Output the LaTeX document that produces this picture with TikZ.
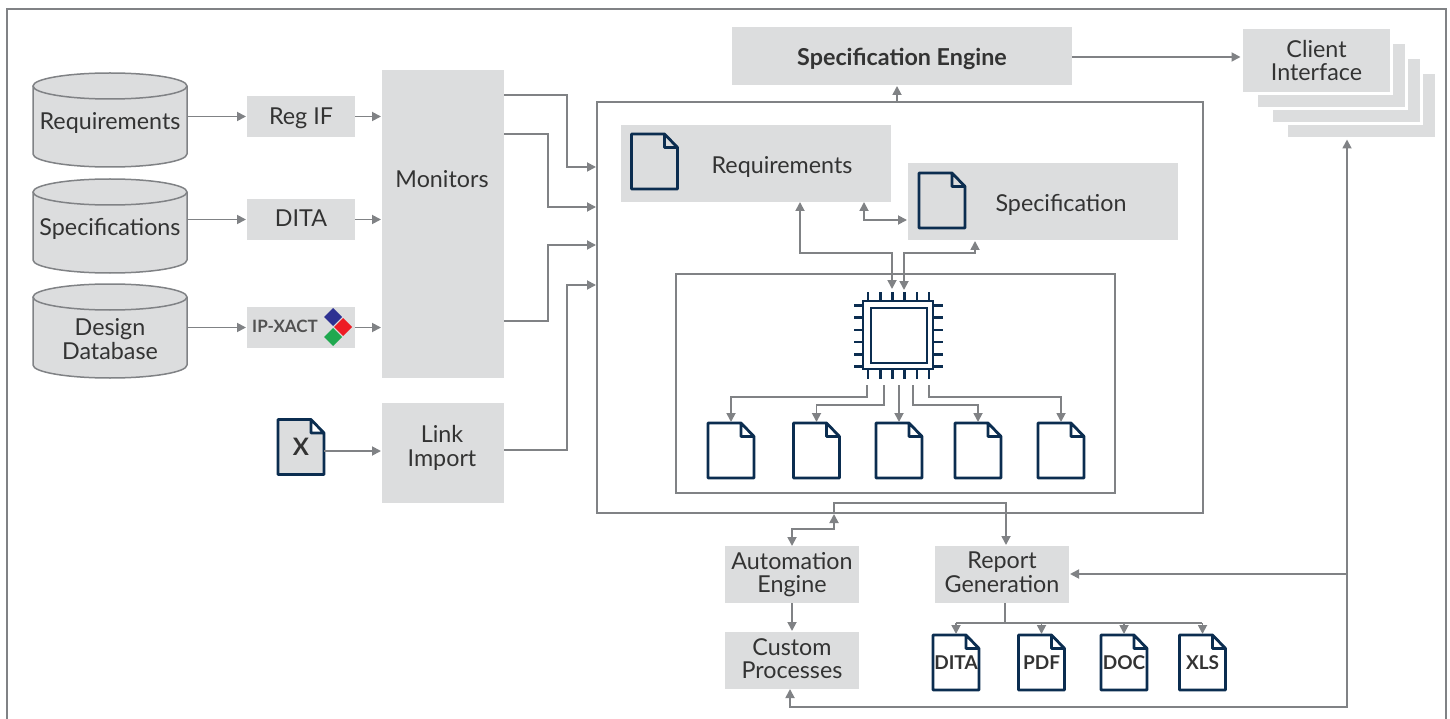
\documentclass[tikz,border=0pt]{standalone}
\usepackage{fontspec}
\setmainfont{Lato}
\usetikzlibrary{positioning, arrows.meta, shapes.geometric}

\definecolor{boxgray}{HTML}{DCDDDE}
\definecolor{linegray}{HTML}{808285}
\definecolor{navy}{HTML}{0B2D50}
\definecolor{inkgray}{HTML}{333333}
\definecolor{tileblue}{HTML}{2E3192}
\definecolor{tilered}{HTML}{ED1C24}
\definecolor{tilegreen}{HTML}{1FA84F}

\tikzset{
  label/.style={text=inkgray, align=center, inner sep=0pt, outer sep=0pt,
                font=\fontsize{23.3}{23.5}\selectfont},
  oneline/.style={text height=19pt, text depth=0pt},
  lowline/.style={execute at end node=\vphantom{g}},
  box/.style={rectangle, fill=boxgray, label},
  storenode/.style={rectangle, label, minimum width=154pt, minimum height=94pt},
  storeline/.style={draw=linegray, line width=1.5pt, fill=boxgray},
  layer/.style={rectangle, fill=boxgray, draw=white, line width=3pt, minimum width=150pt,
                minimum height=66pt, inner sep=0pt, outer sep=0pt},
  frame/.style={rectangle, draw=linegray, line width=1.8pt, inner sep=0pt, outer sep=0pt},
  flow/.style={draw=linegray, line width=1.8pt, >={Triangle[length=9pt,width=9pt]}, shorten >=1pt},
  pin/.style={draw=navy, line width=2.6pt},
  docline/.style={draw=navy, line width=2.8pt, line join=round},
  docnode/.style={inner sep=0pt, outer sep=0pt, minimum width=46pt, minimum height=55pt,
                  text=inkgray, font=\fontsize{19}{22}\bfseries\selectfont},
  tile/.style={diamond, inner sep=0pt, outer sep=0pt, minimum width=18pt, minimum height=18pt}
}

% outline first, then the node on top
\newcommand{\docicon}[5][none]{%
  \draw[docline, fill=#1, shift={(#3,#4)}]
    (-23,-27.5) -- (10,-27.5) -- (23,-14) -- (23,27.5) -- (-23,27.5) -- cycle
    (10,-27.5) -- (10,-14) -- (23,-14);
  \node[docnode] (#2) at (#3,#4) {#5};
}
% same idea for the databases
\newcommand{\dbstore}[4][oneline]{%
  \draw[storeline, shift={(110,#3)}]
    (-77,-34) -- (-77,34) arc[start angle=180, end angle=0, x radius=77, y radius=13] -- (77,-34);
  \draw[storeline, shift={(110,#3)}] (0,-34) circle[x radius=77, y radius=13];
  \node[storenode, #1] (#2) at (110,#3) {#4};
}

\begin{document}
\begin{tikzpicture}[x=1pt, y=-1pt]
    \useasboundingbox (0,0) rectangle (1450,719);

    % outer frame runs off the bottom
    \draw[linegray, line width=1.8pt] (7,719) |- (1446,9) -- (1446,719);

    % left column
    \dbstore{dbreq}{120}{Requirements}
    \dbstore{dbspec}{226}{Specifications}
    \dbstore[]{dbdesign}{331}{}
    \node[label] (dbdesigntext) at (110,339) {Design\\Database};

    \node[box, oneline, text height=16pt, minimum width=108pt, minimum height=41pt] (regif) at (301,116.5) {Reg IF};
    \node[box, oneline, text height=15pt, minimum width=108pt, minimum height=41pt] (dita) at (301,219.5) {DITA};
    \node[box, minimum width=108pt, minimum height=41pt] (ipxact) at (301,327.5) {};
    \node[anchor=west, inner sep=0pt, text=inkgray!85, font=\fontsize{17}{18}\bfseries\selectfont]
        (ipxacttext) at (252,326) {IP-XACT};
    \node[tile, fill=tileblue] (logoblue) at (333,317) {};
    \node[tile, fill=tilered] (logored) at (343,327) {};
    \node[tile, fill=tilegreen] (logogreen) at (333,337) {};

    \node[box, minimum width=122pt, minimum height=308pt] (monitors) at (443,224) {};
    \node[label, oneline] (monitorstext) at (442,178.5) {Monitors};
    \node[box, below=25pt of monitors, minimum width=122pt, minimum height=100pt] (link) {};
    \node[label] (linktext) at (442,448) {Link\\Import};
    \docicon[boxgray]{xdoc}{301}{447}{\fontsize{24}{24}\selectfont X}

    % centre block
    \node[frame, minimum width=606pt, minimum height=411pt] (bigbox) at (900,307.5) {};
    \node[frame, minimum width=439pt, minimum height=219pt] (innerbox) at (895.5,383.5) {};
    \node[box, oneline, minimum width=340pt, minimum height=58pt,
          font=\fontsize{23.3}{23}\bfseries\selectfont] (engine) at (902,56) {Specification Engine};

    \node[box, minimum width=270pt, minimum height=77pt] (reqbox) at (756,163.5) {};
    \node[label, oneline] (reqtext) at (782,164) {Requirements};
    \node[box, minimum width=270pt, minimum height=77pt] (specbox) at (1043,201.5) {};
    \node[label, oneline] (spectext) at (1061,202.5) {Specification};
    \docicon{reqdoc}{654.5}{161.5}{}
    \docicon{specdoc}{942}{200.5}{}

    % chip
    \node[frame, draw=navy, line width=2.8pt, minimum width=70pt, minimum height=68pt] (chip) at (898,335) {};
    \node[frame, draw=navy, line width=2.8pt, minimum width=56pt, minimum height=55pt] (chipcore) at (899,335.5) {};
    \foreach \p in {-30.5,-18.3,-6.1,6.1,18.3,30.5} {
        \draw[pin] (898.5+\p,292) -- (898.5+\p,301);
        \draw[pin] (898.5+\p,369) -- (898.5+\p,379);
        \draw[pin] (854,336+\p) -- (863,336+\p);
        \draw[pin] (933,336+\p) -- (943,336+\p);
    }

    \docicon{filea}{731}{450.5}{}
    \docicon{fileb}{816.5}{450.5}{}
    \docicon{filec}{899}{450.5}{}
    \docicon{filed}{978}{450.5}{}
    \docicon{filee}{1061}{450.5}{}

    \coordinate (pina) at (867,385);
    \coordinate (pinb) at (884,385);
    \coordinate (pinc) at (899,385);
    \coordinate (pind) at (913,385);
    \coordinate (pine) at (929,385);

    % client stack, back to front
    \node[layer] (clientd) at (1361.5,105.5) {};
    \node[layer] (clientc) at (1346.5,90.5) {};
    \node[layer] (clientb) at (1331.5,75.5) {};
    \node[layer, label] (client) at (1316.5,60.5) {Client\\Interface};

    % bottom row
    \node[box, minimum width=134pt, minimum height=57pt] (automation) at (792,574.5) {Automation\\Engine};
    \node[box, lowline, below=29pt of automation, minimum width=134pt, minimum height=57pt] (custom) {Custom\\Processes};
    \node[box, lowline, minimum width=134pt, minimum height=57pt] (report) at (1002,574.5) {Report\\Generation};
    \docicon{outdita}{956}{662.5}{DITA}
    \docicon{outpdf}{1041.5}{662.5}{PDF}
    \docicon{outdoc}{1124}{662.5}{DOC}
    \docicon{outxls}{1202.5}{662.5}{XLS}
    \coordinate (split) at (1005,623);

    % connectors
    \draw[flow, ->] (dbreq.east |- regif.east) -- (regif.west);
    \draw[flow, ->] (dbspec.east |- dita.east) -- (dita.west);
    \draw[flow, ->] (dbdesign.east |- ipxact.east) -- (ipxact.west);
    \draw[flow, ->] (regif.east) -- (monitors.west |- regif.east);
    \draw[flow, ->] (dita.east) -- (monitors.west |- dita.east);
    \draw[flow, ->] (ipxact.east) -- (monitors.west |- ipxact.east);
    \draw[flow, ->] (xdoc.east |- 0,451) -- (link.west |- 0,451);

    \draw[flow, ->] (monitors.east |- 0,95) -| (567,167) -- (bigbox.west |- 0,167);
    \draw[flow, ->] (monitors.east |- 0,134) -| (548,207) -- (bigbox.west |- 0,207);
    \draw[flow, ->] (monitors.east |- 0,321) -| (548,245) -- (bigbox.west |- 0,245);
    \draw[flow, ->] (link.east |- 0,450) -| (567,285) -- (bigbox.west |- 0,285);

    \draw[flow, ->] (897,0 |- bigbox.north) -- (897,0 |- engine.south);
    \draw[flow, ->] (engine.east |- 0,57) -- (client.west |- 0,57);

    \draw[flow, <->] (864,0 |- reqbox.south) |- (specbox.west |- 0,220);
    \draw[flow, <->] (800,0 |- reqbox.south) |- (892,253) -- (892,290);
    \draw[flow, <->] (904,290) |- (975,253) -- (975,0 |- specbox.south);

    \draw[flow, ->] (pina) -- (pina |- 0,397) -| (filea.north);
    \draw[flow, ->] (pinb) -- (pinb |- 0,405) -| (fileb.north);
    \draw[flow, ->] (pinc) -- (filec.north);
    \draw[flow, ->] (pind) -- (pind |- 0,405) -| (filed.north);
    \draw[flow, ->] (pine) -- (pine |- 0,397) -| (filee.north);

    \draw[flow, <->] (automation.north) |- (834,529) -- (834,0 |- bigbox.south);
    \draw[flow, ->] (834,0 |- bigbox.south) |- (1006,503) -- (1006,0 |- report.north);
    \draw[flow, ->] (automation.south) -- (custom.north);

    \draw[flow, <->] (790,0 |- custom.south) |- (1347,707) -- (1347,0 |- clientd.south);
    \draw[flow, ->] (1347,574) -- (report.east |- 0,574);

    \draw[flow] (split |- report.south) -- (split);
    \draw[flow] (outdita.north |- split) -- (outxls.north |- split);
    \draw[flow, ->] (outdita.north |- split) -- (outdita.north);
    \draw[flow, ->] (outpdf.north |- split) -- (outpdf.north);
    \draw[flow, ->] (outdoc.north |- split) -- (outdoc.north);
    \draw[flow, ->] (outxls.north |- split) -- (outxls.north);
\end{tikzpicture}
\end{document}
